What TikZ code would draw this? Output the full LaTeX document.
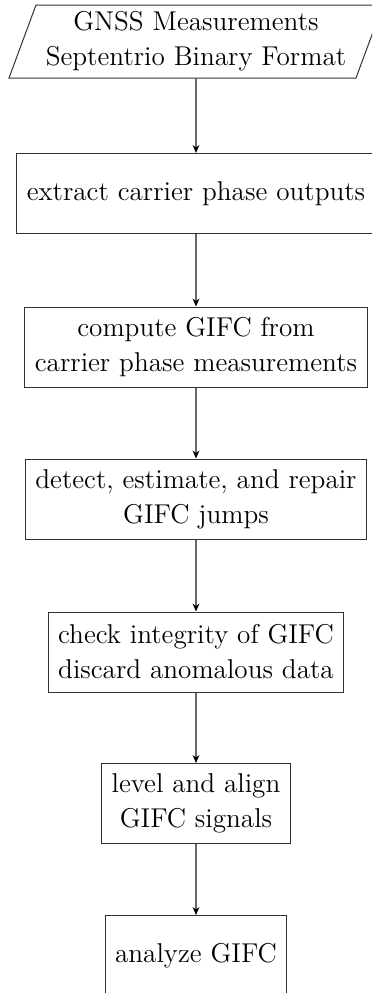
\documentclass[tikz,border=0pt]{standalone}
\usetikzlibrary{arrows.meta}
\begin{document}
\begin{tikzpicture}[x=0.5pt,y=-0.5pt,
  every node/.style={font=\fontsize{13.6}{17.5}\selectfont, align=center},
  procbox/.style={draw=black!80, line width=0.5pt, minimum height=40pt, inner xsep=5pt, inner ysep=2pt},
  flow/.style={draw=black!60, line width=0.65pt, -{Stealth[length=4pt,width=3.4pt,black]}}
]
\clip (0,0) rectangle (372,993);
\useasboundingbox (0,0) rectangle (372,993);
\draw[draw=black!80, line width=0.5pt] (9,78) -- (36,5) -- (383,5) -- (356,78) -- cycle;
\node (in) at (196,41.5) {GNSS Measurements\\Septentrio Binary Format};
\coordinate (inb) at (196,78);
\node[procbox] (extract) at (196,193.5) {extract carrier phase outputs};
\node[procbox] (compute) at (196,347) {compute GIFC from\\carrier phase measurements};
\node[procbox] (detect) at (196,499) {detect, estimate, and repair\\GIFC jumps};
\node[procbox] (check) at (196,652) {check integrity of GIFC\\discard anomalous data};
\node[procbox] (level) at (196,803.5) {level and align\\GIFC signals};
\node[procbox] (analyze) at (196,955.5) {analyze GIFC};
\draw[flow] (inb) -- (extract.north);
\draw[flow] (extract) -- (compute);
\draw[flow] (compute) -- (detect);
\draw[flow] (detect) -- (check);
\draw[flow] (check) -- (level);
\draw[flow] (level) -- (analyze);
\end{tikzpicture}
\end{document}
